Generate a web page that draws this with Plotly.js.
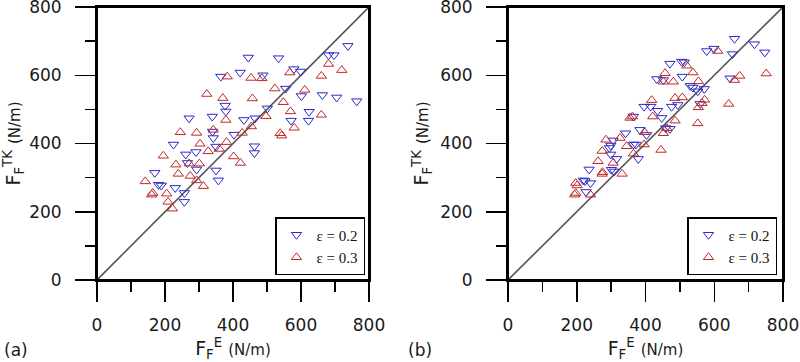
<!DOCTYPE html>
<html>
<head>
<meta charset="utf-8">
<script src="https://cdn.plot.ly/plotly-3.0.1.min.js"></script>
<style>html,body{margin:0;padding:0;background:#fff;}#chart{width:800px;height:362px;}</style>
</head>
<body>
<div id="chart"></div>
<script>
// Panel (a)
const aBlueX = [738,681,697,445,534,579,599,421,364,488,555,663,705,764,601,377,379,271,339,432,465,501,624,622,571,340,342,350,403,225,261,291,266,293,350,357,463,463,170,181,189,230,257,257];
const aBlueY = [686,659,659,652,650,618,611,608,596,600,561,542,535,524,539,511,494,474,479,469,474,503,493,467,467,435,416,391,426,397,368,375,343,324,321,292,392,372,314,279,277,270,255,229];
const aRedX = [681,720,660,383,453,485,567,523,611,323,370,457,548,569,497,379,660,454,580,427,539,543,245,293,342,381,303,327,360,195,232,271,301,402,422,239,274,293,313,142,161,164,205,209,222];
const aRedY = [633,615,598,596,592,591,608,561,557,545,533,532,521,494,480,469,484,450,446,431,430,423,433,431,440,404,399,377,384,364,338,341,341,362,343,311,305,292,275,289,250,255,253,229,209];
// Panel (b)
const bBlueX = [659,717,747,578,599,653,471,505,513,507,433,452,646,530,538,552,571,559,476,494,396,415,435,447,365,342,384,403,365,372,379,471,459,306,299,295,299,316,301,309,236,219,224,240,227];
const bBlueY = [707,691,667,671,678,662,634,640,638,596,589,586,591,569,564,553,560,516,508,513,508,508,496,475,479,430,440,425,397,397,355,443,445,409,394,387,368,355,323,318,324,292,290,284,258];
const bRedX = [610,520,457,538,452,481,554,659,674,751,418,486,507,572,564,554,642,421,355,362,486,552,462,452,397,445,396,345,326,285,274,262,306,275,274,332,365,197,201,194,197,240];
const bRedY = [671,628,606,608,581,581,582,586,598,605,527,533,535,528,518,506,516,479,475,479,467,459,445,430,433,381,397,392,416,411,378,348,343,316,311,311,370,284,277,250,255,250];
// 1:1 reference line
const diag = [0, 800];
const seriesNames = ['\u03b5 = 0.2', '\u03b5 = 0.3'];
const tickVals = [0, 200, 400, 600, 800];

const blue = '#2a2ac8';
const red = '#c02828';

function sc(x, y, xa, ya, name, sym, col, leg, show) {
  return {x: x, y: y, xaxis: xa, yaxis: ya, type: 'scatter', mode: 'markers', name: name,
    legend: leg, showlegend: show, cliponaxis: false,
    marker: {symbol: sym, size: 9, color: col, line: {color: col, width: 1}}};
}
function ln(xa, ya) {
  return {x: diag, y: diag, xaxis: xa, yaxis: ya, type: 'scatter', mode: 'lines', showlegend: false,
    line: {color: '#555555', width: 1.6}, hoverinfo: 'skip'};
}

const data = [
  ln('x', 'y'), ln('x2', 'y2'),
  sc(aBlueX, aBlueY, 'x', 'y', seriesNames[0], 'triangle-down-open', blue, 'legend', true),
  sc(aRedX, aRedY, 'x', 'y', seriesNames[1], 'triangle-up-open', red, 'legend', true),
  sc(bBlueX, bBlueY, 'x2', 'y2', seriesNames[0], 'triangle-down-open', blue, 'legend2', true),
  sc(bRedX, bRedY, 'x2', 'y2', seriesNames[1], 'triangle-up-open', red, 'legend2', true)
];

const tickFont = {family: 'DejaVu Sans', size: 17, color: '#1a1a1a'};
const xTitle = 'F<sub>F</sub><sup>E</sup> <span style="font-size:15px">(N/m)</span>';
const yTitle = 'F<sub>F</sub><sup>TK</sup> <span style="font-size:15px">(N/m)</span>';

function xax(dom, anchor) {
  return {domain: dom, anchor: anchor, range: [0, 800], tickvals: tickVals, ticks: 'outside', ticklen: 20,
    tickwidth: 1.5, tickcolor: '#000', showline: true, linewidth: 2, linecolor: '#000', mirror: true,
    showgrid: false, zeroline: false, tickfont: tickFont, ticklabelstandoff: 9, ticklabeloverflow: 'allow',
    minor: {dtick: 100, tick0: 0, ticks: 'outside', ticklen: 10, tickwidth: 1.5, tickcolor: '#000', showgrid: false},
    title: {text: xTitle, font: {family: 'DejaVu Sans', size: 19, color: '#1a1a1a'}, standoff: 6}};
}
function yax(dom, anchor) {
  return {domain: dom, anchor: anchor, range: [0, 800], tickvals: tickVals, ticks: 'outside', ticklen: 20,
    tickwidth: 1.5, tickcolor: '#000', showline: true, linewidth: 2, linecolor: '#000', mirror: true,
    showgrid: false, zeroline: false, tickfont: tickFont, ticklabelstandoff: 10, ticklabeloverflow: 'allow',
    minor: {dtick: 100, tick0: 0, ticks: 'outside', ticklen: 10, tickwidth: 1.5, tickcolor: '#000', showgrid: false},
    title: {text: yTitle, font: {family: 'DejaVu Sans', size: 19, color: '#1a1a1a'}, standoff: 6}};
}

const yDom = [(362 - 280) / 362, (362 - 7) / 362];
const legStyle = {bgcolor: '#fff', bordercolor: '#000', borderwidth: 1.5,
  font: {family: 'Liberation Serif', size: 15, color: '#111'}, xanchor: 'right', yanchor: 'bottom',
  itemwidth: 30, tracegroupgap: 0};

function frame(xa, ya) {
  return {type: 'rect', xref: xa + ' domain', yref: ya + ' domain', x0: 0, x1: 1, y0: 0, y1: 1,
    line: {color: '#000', width: 2}, fillcolor: 'rgba(0,0,0,0)', layer: 'above'};
}

const layout = {
  width: 800, height: 362, margin: {l: 0, r: 0, t: 0, b: 0},
  paper_bgcolor: '#fff', plot_bgcolor: '#fff',
  xaxis: xax([97 / 800, 369 / 800], 'y'),
  yaxis: yax(yDom, 'x'),
  xaxis2: xax([508 / 800, 783 / 800], 'y2'),
  yaxis2: yax(yDom, 'x2'),
  legend: Object.assign({x: 365 / 800, y: (362 - 275) / 362}, legStyle),
  legend2: Object.assign({x: 777 / 800, y: (362 - 275) / 362}, legStyle),
  shapes: [frame('x', 'y'), frame('x2', 'y2')],
  annotations: [
    {text: '(a)', x: 2 / 800, y: (362 - 350) / 362, xref: 'paper', yref: 'paper', xanchor: 'left', yanchor: 'middle',
      showarrow: false, font: {family: 'DejaVu Sans', size: 17, color: '#1a1a1a'}},
    {text: '(b)', x: 406 / 800, y: (362 - 350) / 362, xref: 'paper', yref: 'paper', xanchor: 'left', yanchor: 'middle',
      showarrow: false, font: {family: 'DejaVu Sans', size: 17, color: '#1a1a1a'}}
  ],
  showlegend: true
};

Plotly.newPlot('chart', data, layout, {staticPlot: true, displayModeBar: false});
</script>
</body>
</html>
